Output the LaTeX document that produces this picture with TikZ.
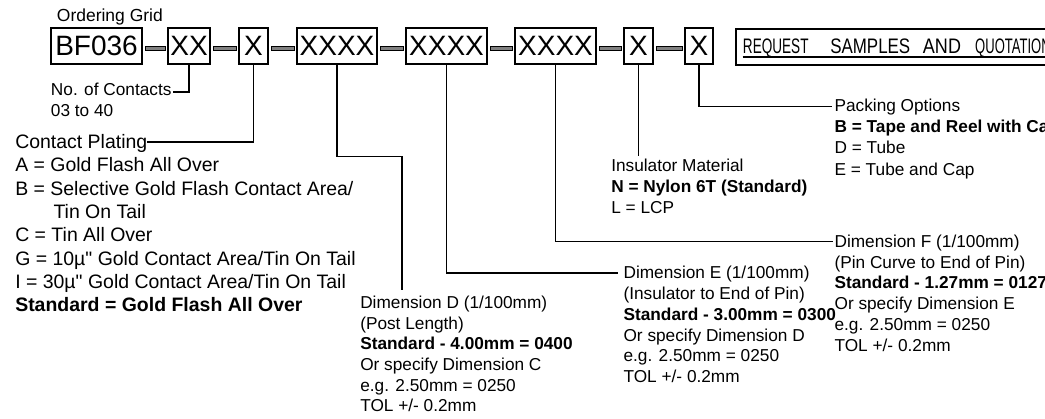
\documentclass[tikz,border=0pt]{standalone}
\usepackage{fontspec}
\setmainfont{Liberation Sans}
\usepackage{graphicx}
\usetikzlibrary{calc}
\newcommand\fDim{\fontsize{12.94}{15}\selectfont}
\newcommand\fCP{\fontsize{14.6}{17}\selectfont}
\newcommand\fBox{\fontsize{21}{24}\selectfont}
\newcommand\fReq{\fontsize{15.75}{18}\selectfont}
\newcommand\fTitle{\fontsize{13.1}{15}\selectfont}
\newcommand\rword[3]{\makebox[#1][l]{\scalebox{#2}[1]{#3}}}
\begin{document}
\begin{tikzpicture}[x=0.75pt,y=-0.75pt,
  box/.style={draw=black, line width=1.2pt, inner sep=0pt, minimum height=27pt, font=\fBox},
  bar/.style={draw=black, line width=0.6pt, fill=black!50},
  conn/.style={draw=black, line width=1.2pt},
  lbl/.style={anchor=base west, inner sep=0pt, font=\fDim},
  cpl/.style={anchor=base west, inner sep=0pt, font=\fCP}]
\useasboundingbox (0,0) rectangle (1045,418);
\clip (0,0) rectangle (1045,418);

% title
\node[lbl, font=\fTitle] (title) at (56.7,21.7) {Ordering Grid};

% ordering grid boxes
\node[box, minimum width=68.25pt] (bf) at (96.5,46) {BF036};
\node[box, minimum width=31.5pt] (xx) at (189,46) {XX};
\node[box, minimum width=21.75pt] (xa) at (253.5,46) {X};
\node[box, minimum width=60pt] (dd) at (337,46) {XXXX};
\node[box, minimum width=60.75pt] (ee) at (446.5,46) {XXXX};
\node[box, minimum width=60.75pt] (ff) at (555.5,46) {XXXX};
\node[box, minimum width=21.75pt] (ins) at (638.5,46) {X};
\node[box, minimum width=21pt] (pk) at (699,46) {X};

% dash bars between boxes
\foreach \a/\b in {bf/xx, xx/xa, xa/dd, dd/ee, ee/ff, ff/ins, ins/pk}
  \draw[bar] ($(\a.east)+(3,0.2)$) rectangle ($(\b.west)+(-2,4.4)$);

% request box
\node[draw=black, line width=1.2pt, inner sep=0pt, minimum width=247.5pt, minimum height=27pt, anchor=north west] (req) at (735,28.3) {};
\draw[conn] ($(req.north west)+(7.7,28.4)$) -- ($(req.north east)+(0,28.4)$);
\node[anchor=base west, inner sep=0pt, font=\fReq] (reqtxt) at (742.7,53.3)
  {\rword{65.5pt}{0.646}{REQUEST}\rword{69.5pt}{0.806}{SAMPLES}\rword{39.2pt}{0.858}{AND}\scalebox{0.62}[1]{QUOTATION}};

% connectors
\coordinate (ncEnd) at (173.3,91.7);
\draw[conn] (xx.south) |- (ncEnd);
\coordinate (cpEnd) at (146.7,141.7);
\draw[conn] (xa.south) |- (cpEnd);
\coordinate (dKnee) at (401.7,156.3);
\coordinate (dEnd) at (401.7,290);
\draw[conn] (dd.south) |- (dKnee) -- (dEnd);
\coordinate (eEnd) at (618.3,272.7);
\draw[conn] (ee.south) |- (eEnd);
\coordinate (fEnd) at (833,241.5);
\draw[conn] (ff.south) |- (fEnd);
\coordinate (insEnd) at (638.5,156);
\draw[conn] (ins.south) -- (insEnd);
\coordinate (pkEnd) at (832,106.3);
\draw[conn] (pk.south) |- (pkEnd);

% labels
\node[lbl] (nc1) at (50.7,95) {No. of Contacts};
\node[lbl] (nc2) at (50.7,116.7) {03 to 40};

\foreach \txt [count=\i from 0] in {Contact Plating, A = Gold Flash All Over, B = Selective Gold Flash Contact Area/, \hspace*{28.7pt}Tin On Tail, C = Tin All Over, G = 10µ\textquotedbl{} Gold Contact Area/Tin On Tail, I = 30µ\textquotedbl{} Gold Contact Area/Tin On Tail, \textbf{Standard = Gold Flash All Over}}
  \node[cpl] (cp\i) at (15,{148.3+23.35*\i}) {\txt};

\foreach \txt [count=\i from 0] in {Dimension D (1/100mm), (Post Length), \textbf{Standard - 4.00mm = 0400}, Or specify Dimension C, e.g. 2.50mm = 0250, TOL +/- 0.2mm}
  \node[lbl] (dimD\i) at (360,{308.3+20.7*\i}) {\txt};

\foreach \txt [count=\i from 0] in {Dimension E (1/100mm), (Insulator to End of Pin), \textbf{Standard - 3.00mm = 0300}, Or specify Dimension D, e.g. 2.50mm = 0250, TOL +/- 0.2mm}
  \node[lbl] (dimE\i) at (623.3,{278.3+20.9*\i}) {\txt};

\foreach \txt [count=\i from 0] in {Dimension F (1/100mm), (Pin Curve to End of Pin), \textbf{Standard - 1.27mm = 0127}, Or specify Dimension E, e.g. 2.50mm = 0250, TOL +/- 0.2mm}
  \node[lbl] (dimF\i) at (834.3,{247.5+20.7*\i}) {\txt};

\foreach \txt [count=\i from 0] in {Insulator Material, \textbf{N = Nylon 6T (Standard)}, L = LCP}
  \node[lbl] (insl\i) at (611,{171.7+20.8*\i}) {\txt};

\foreach \txt [count=\i from 0] in {Packing Options, \textbf{B = Tape and Reel with Cap}, D = Tube, E = Tube and Cap}
  \node[lbl] (pack\i) at (834.3,{111.7+21.1*\i}) {\txt};
\end{tikzpicture}
\end{document}
